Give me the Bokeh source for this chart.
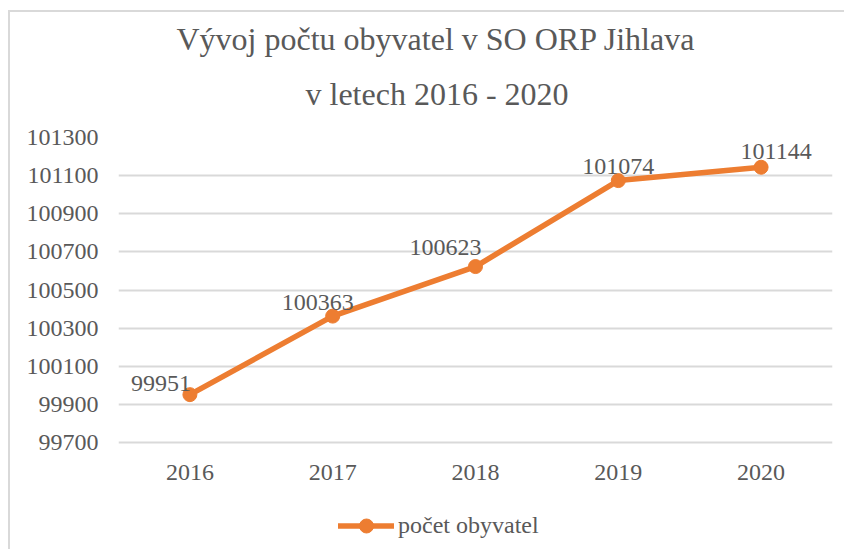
from bokeh.plotting import figure
from bokeh.models import (ColumnDataSource, Range1d, Title, Legend, LegendItem,
                          FixedTicker, BasicTickFormatter)
from bokeh.core.properties import value
from bokeh.embed import file_html
from bokeh.resources import INLINE

years = ["2016", "2017", "2018", "2019", "2020"]
population = [99951, 100363, 100623, 101074, 101144]
y_ticks = [99700, 99900, 100100, 100300, 100500, 100700, 100900, 101100, 101300]
series_name = "počet obyvatel"
title_line1 = "Vývoj počtu obyvatel v SO ORP Jihlava"
title_line2 = "v letech 2016 - 2020"

# label placement (styling only)
label_dx = [-29, -15, -30, 0, 15]
label_dy = [-11, -14, -19, -14, -16]

ORANGE = "#ED7D31"
GREY_TEXT = "#595959"
GRID = "#D9D9D9"
FONT = "Liberation Serif"

# frame extends below the lowest gridline to host the legend
Y_TOP = 101300
Y_BOTTOM = 99700 - 103 * 1600 / 305

src = ColumnDataSource(dict(
    year=years, pop=population, lab=[str(v) for v in population],
    dx=label_dx, dy=label_dy,
))

p = figure(
    width=834, height=537, frame_width=714, frame_height=408,
    x_range=years, y_range=Range1d(Y_BOTTOM, Y_TOP),
    output_backend="svg", toolbar_location=None,
    min_border_left=108, min_border_right=12,
    min_border_top=125, min_border_bottom=4,
)
p.styles = {"border-top": "2px solid #D9D9D9", "border-left": "2px solid #D9D9D9",
            "margin-top": "10px", "margin-left": "8px"}
p.outline_line_color = None
p.background_fill_color = "white"
p.border_fill_color = "white"

# titles
t2 = Title(text=title_line2, align="left", vertical_align="top", text_font=FONT,
           text_font_size="32px", text_font_style="normal", text_color=GREY_TEXT,
           offset=187, standoff=47)
t1 = Title(text=title_line1, align="left", vertical_align="top", text_font=FONT,
           text_font_size="32px", text_font_style="normal", text_color=GREY_TEXT,
           offset=58, standoff=-13)
p.add_layout(t2, "above")
p.add_layout(t1, "above")

# axes
p.yaxis.ticker = FixedTicker(ticks=y_ticks)
p.yaxis.formatter = BasicTickFormatter(use_scientific=False)
p.yaxis.major_label_text_font = FONT
p.yaxis.major_label_text_font_size = "24px"
p.yaxis.major_label_text_color = GREY_TEXT
p.yaxis.axis_line_color = None
p.yaxis.major_tick_line_color = None
p.yaxis.minor_tick_line_color = None
p.yaxis.major_tick_out = 0
p.yaxis.major_label_standoff = 20

p.xaxis.major_label_text_font = FONT
p.xaxis.major_label_text_font_size = "24px"
p.xaxis.major_label_text_color = GREY_TEXT
p.xaxis.axis_line_color = None
p.xaxis.major_tick_line_color = None
p.xaxis.minor_tick_line_color = None
p.xaxis.major_label_standoff = -87

p.xgrid.grid_line_color = None
p.ygrid.grid_line_color = GRID
p.ygrid.grid_line_width = 2

line_r = p.line("year", "pop", source=src, line_color=ORANGE, line_width=5.5, line_cap="round")
dot_r = p.scatter("year", "pop", source=src, size=14, fill_color=ORANGE, line_color=ORANGE)

p.text("year", "pop", text="lab", source=src, x_offset="dx", y_offset="dy",
       text_align="center", text_baseline="alphabetic",
       text_font=value(FONT), text_font_size="24px", text_color=GREY_TEXT)

legend = Legend(items=[LegendItem(label=series_name, renderers=[line_r, dot_r])],
                location=(220, 2), orientation="horizontal",
                label_text_font=FONT, label_text_font_size="24px",
                label_text_color=GREY_TEXT, glyph_width=56, glyph_height=35,
                border_line_color=None, background_fill_alpha=0, label_standoff=4,
                padding=0, margin=0)
p.add_layout(legend, "center")

open("out.html", "w").write(file_html(p, INLINE))
